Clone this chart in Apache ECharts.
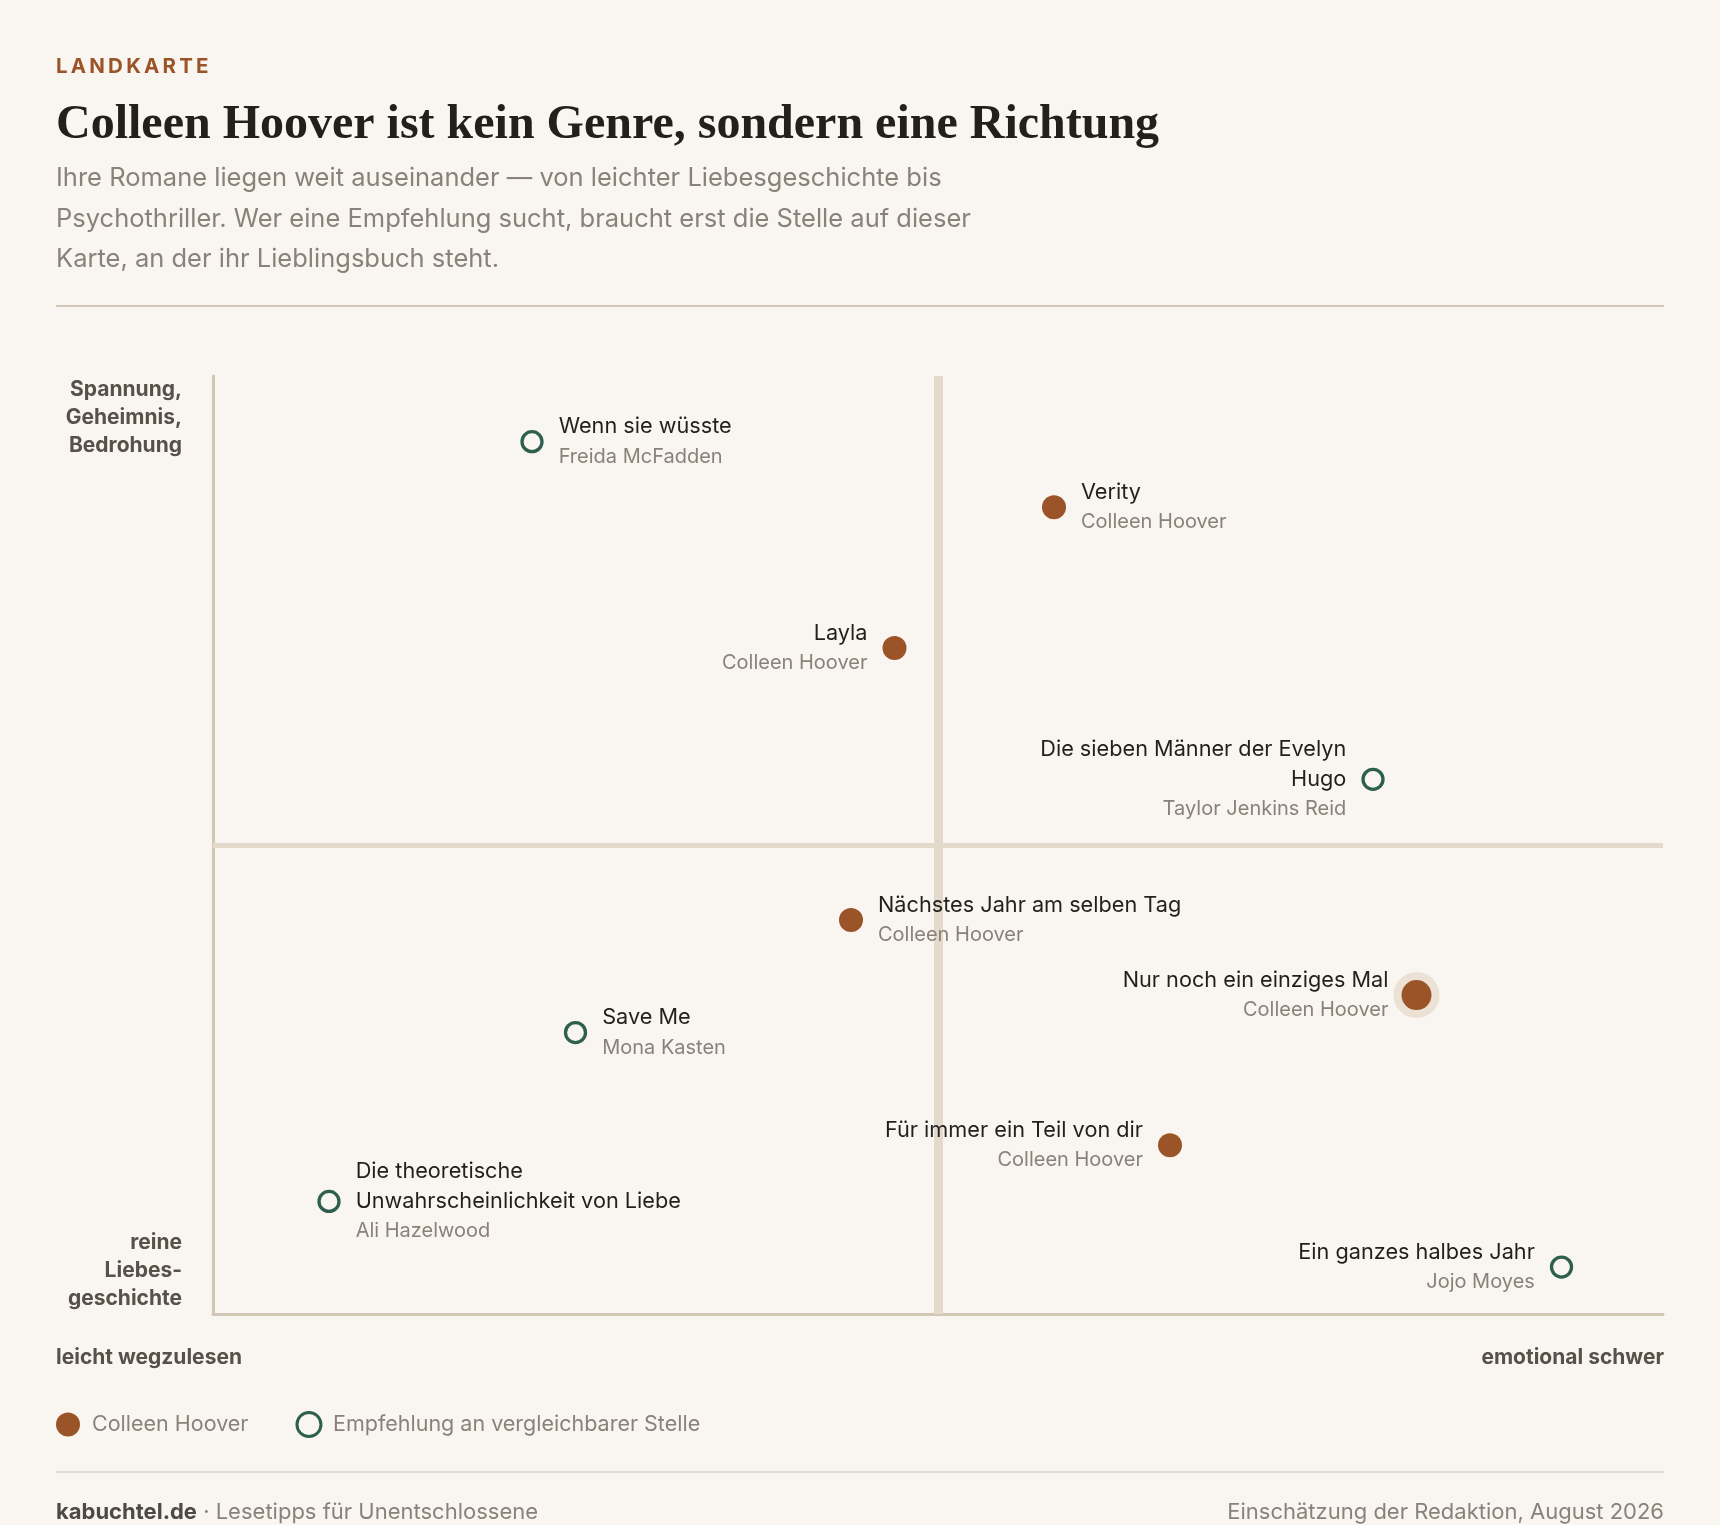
<!DOCTYPE html>
<html lang="de">
<head>
<meta charset="utf-8">
<title>Colleen Hoover – Landkarte</title>
<script src="https://cdn.jsdelivr.net/npm/echarts@6/dist/echarts.min.js"></script>
<style>
  html, body { margin: 0; padding: 0; background: #f9f6f1; }
  #chart { width: 1720px; height: 1525px; }
</style>
</head>
<body>
<div id="chart"></div>
<script>
// Bücher auf der Karte
var titles = [
    'Wenn sie wüsste',
    'Verity',
    'Layla',
    'Die sieben Männer der Evelyn Hugo',
    'Nächstes Jahr am selben Tag',
    'Nur noch ein einziges Mal',
    'Save Me',
    'Für immer ein Teil von dir',
    'Die theoretische Unwahrscheinlichkeit von Liebe',
    'Ein ganzes halbes Jahr'
];
var authors = [
    'Freida McFadden',
    'Colleen Hoover',
    'Colleen Hoover',
    'Taylor Jenkins Reid',
    'Colleen Hoover',
    'Colleen Hoover',
    'Mona Kasten',
    'Colleen Hoover',
    'Ali Hazelwood',
    'Jojo Moyes'
];
// x: leicht wegzulesen (0) -> emotional schwer (10)
var weight = [2.2, 5.8, 4.7, 8.0, 4.4, 8.3, 2.5, 6.6, 0.8, 9.3];
// y: reine Liebesgeschichte (0) -> Spannung, Geheimnis, Bedrohung (10)
var tension = [9.3, 8.6, 7.1, 5.7, 4.2, 3.4, 3.0, 1.8, 1.2, 0.5];

var seriesNames = ['Colleen Hoover', 'Empfehlung an vergleichbarer Stelle'];

// Layout: Beschriftung links vom Punkt, hervorgehobener Titel
var labelLeft = ['Layla', 'Die sieben Männer der Evelyn Hugo', 'Nur noch ein einziges Mal',
    'Für immer ein Teil von dir', 'Ein ganzes halbes Jahr'];
var highlight = 'Nur noch ein einziges Mal';

var BG = '#f9f6f1';
var BROWN = '#9b5428';
var GREEN = '#2e5e4e';
var INK = '#231f1b';
var GREY = '#8a8279';
var DARK = '#58514a';
var SANS = 'Inter, "Liberation Sans", Arial, sans-serif';
var SERIF = '"Liberation Serif", "Times New Roman", serif';

function wrap(s, max) {
    var words = s.split(' '), lines = [], cur = '';
    words.forEach(function (w) {
        if (cur && (cur + ' ' + w).length > max) {
            lines.push(cur);
            cur = w;
        } else {
            cur = cur ? cur + ' ' + w : w;
        }
    });
    lines.push(cur);
    return lines.join('\n');
}

function item(i) {
    var left = labelLeft.indexOf(titles[i]) >= 0;
    var d = {
        name: titles[i],
        value: [weight[i], tension[i]],
        author: authors[i],
        label: { position: left ? 'left' : 'right' }
    };
    if (titles[i] === highlight) {
        d.symbolSize = 38;
        d.itemStyle = { borderColor: '#ece1d5', borderWidth: 8 };
        d.label.distance = 5;
    }
    return d;
}

var hooverData = [], otherData = [];
titles.forEach(function (t, i) {
    if (authors[i] === 'Colleen Hoover') hooverData.push(item(i));
    else otherData.push(item(i));
});

var labelOpt = {
    show: true,
    distance: 15,
    formatter: function (p) {
        return '{t|' + wrap(p.name, 30) + '}\n{a|' + p.data.author + '}';
    },
    rich: {
        t: { fontFamily: SANS, fontSize: 21.7, color: INK, lineHeight: 30 },
        a: { fontFamily: SANS, fontSize: 20, color: GREY, lineHeight: 30 }
    }
};

function txt(x, y, text, font, fill, align, vAlign, lineHeight) {
    return {
        type: 'text', z: 10,
        style: {
            x: x, y: y, text: text, font: font, fill: fill,
            align: align || 'left', verticalAlign: vAlign || 'middle',
            lineHeight: lineHeight
        }
    };
}

// gesperrte Dachzeile
var kicker = 'LANDKARTE';
var kickerRich = kicker.split('').map(function (c) { return '{k|' + c + '}'; }).join('');

var chart = echarts.init(document.getElementById('chart'), null, { renderer: 'canvas' });

var option = {
    backgroundColor: BG,
    animation: false,
    textStyle: { fontFamily: SANS },
    grid: { left: 213, right: 57, top: 376, bottom: 211 },
    xAxis: {
        type: 'value', min: 0, max: 10,
        axisLine: { show: true, lineStyle: { color: '#d2c6b4', width: 3 } },
        axisTick: { show: false }, axisLabel: { show: false }, splitLine: { show: false }
    },
    yAxis: {
        type: 'value', min: 0, max: 10,
        axisLine: { show: true, lineStyle: { color: '#d2c6b4', width: 3 } },
        axisTick: { show: false }, axisLabel: { show: false }, splitLine: { show: false }
    },
    legend: {
        left: 56, top: 1411, padding: 0,
        itemWidth: 24, itemHeight: 24, itemGap: 47,
        icon: 'circle',
        selectedMode: false,
        textStyle: { fontFamily: SANS, fontSize: 21.5, color: GREY, padding: [0, 0, 0, 7] },
        data: [
            { name: seriesNames[0] },
            { name: seriesNames[1], itemStyle: { color: BG, borderColor: GREEN, borderWidth: 3 } }
        ]
    },
    graphic: [
        {
            type: 'text', z: 10,
            style: {
                x: 56, y: 67, verticalAlign: 'middle', text: kickerRich,
                rich: { k: { fontFamily: SANS, fontSize: 20.5, fontWeight: 'bold', fill: BROWN, padding: [0, 3.2, 0, 0] } }
            }
        },
        txt(56, 126, 'Colleen Hoover ist kein Genre, sondern eine Richtung', 'bold 48px ' + SERIF, INK),
        txt(56, 158, 'Ihre Romane liegen weit auseinander — von leichter Liebesgeschichte bis\nPsychothriller. Wer eine Empfehlung sucht, braucht erst die Stelle auf dieser\nKarte, an der ihr Lieblingsbuch steht.',
            '25.5px ' + SANS, GREY, 'left', 'top', 40.6),
        { type: 'rect', shape: { x: 56, y: 305, width: 1608, height: 2 }, style: { fill: '#d3c9b8' } },

        txt(182, 376, 'Spannung,\nGeheimnis,\nBedrohung', 'bold 21px ' + SANS, DARK, 'right', 'top', 28),
        txt(182, 1313, 'reine\nLiebes-\ngeschichte', 'bold 21px ' + SANS, DARK, 'right', 'bottom', 28),
        txt(56, 1358, 'leicht wegzulesen', 'bold 21px ' + SANS, DARK),
        txt(1664, 1358, 'emotional schwer', 'bold 21px ' + SANS, DARK, 'right'),

        { type: 'rect', shape: { x: 56, y: 1471, width: 1608, height: 2 }, style: { fill: '#e3dbcf' } },
        {
            type: 'text', z: 10,
            style: {
                x: 56, y: 1512, verticalAlign: 'middle',
                text: '{b|kabuchtel.de}{r| · Lesetipps für Unentschlossene}',
                rich: {
                    b: { fontFamily: SANS, fontSize: 22, fontWeight: 'bold', fill: '#4f4943' },
                    r: { fontFamily: SANS, fontSize: 22, fill: GREY }
                }
            }
        },
        txt(1664, 1512, 'Einschätzung der Redaktion, August 2026', '22px ' + SANS, GREY, 'right')
    ],
    series: [
        {
            name: 'Achsenkreuz',
            type: 'scatter',
            data: [],
            z: 1,
            silent: true,
            markLine: {
                z: 1,
                silent: true,
                symbol: 'none',
                label: { show: false },
                lineStyle: { color: '#e3dacc', type: 'solid' },
                data: [
                    { xAxis: 5, lineStyle: { width: 9 } },
                    { yAxis: 5, lineStyle: { width: 5 } }
                ]
            }
        },
        {
            name: seriesNames[0],
            type: 'scatter',
            z: 3,
            symbol: 'circle',
            symbolSize: 24,
            itemStyle: { color: BROWN, opacity: 1 },
            label: labelOpt,
            data: hooverData
        },
        {
            name: seriesNames[1],
            type: 'scatter',
            z: 3,
            symbol: 'circle',
            symbolSize: 20,
            itemStyle: { color: BG, borderColor: GREEN, borderWidth: 3.3, opacity: 1 },
            label: labelOpt,
            data: otherData
        }
    ]
};

chart.setOption(option);
</script>
</body>
</html>
